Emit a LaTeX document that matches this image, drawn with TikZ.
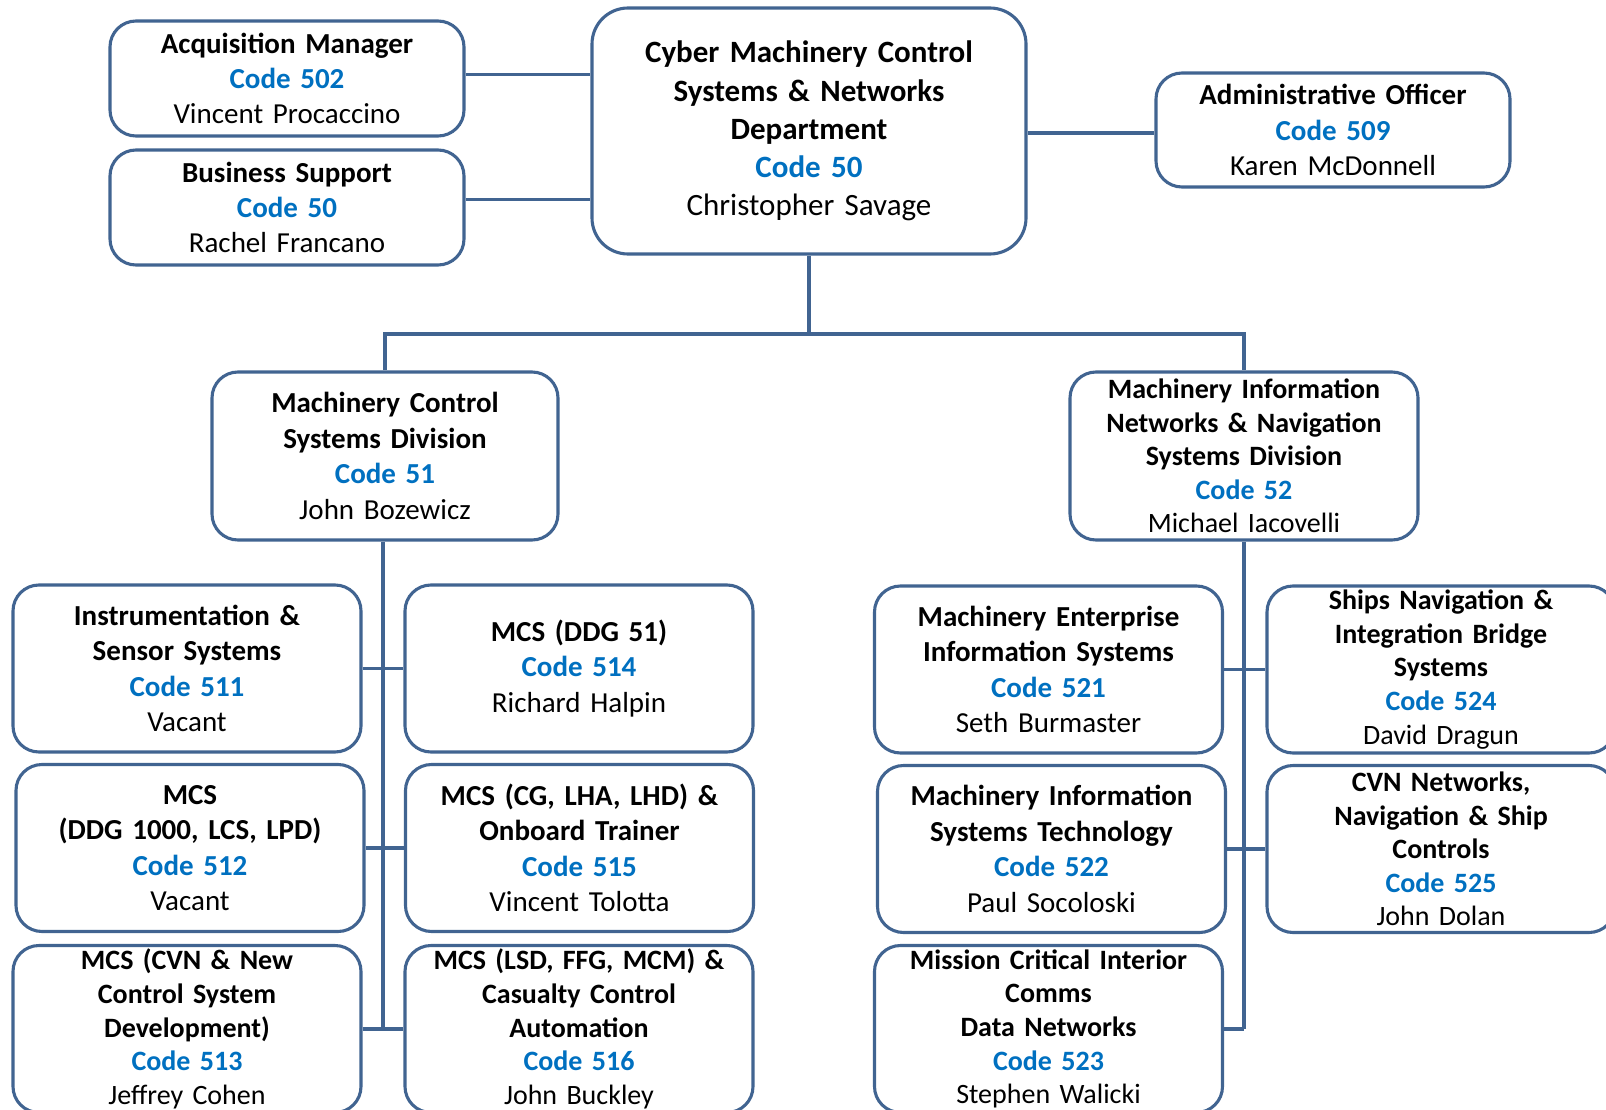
\documentclass[tikz,border=0pt]{standalone}
\usepackage{fontspec}
\setmainfont{Carlito}
\usepackage{xcolor}
\usepackage{tikz}
\usetikzlibrary{positioning}
\definecolor{boxline}{RGB}{65,100,145}
\definecolor{codeblue}{RGB}{0,112,192}
\newcommand{\code}[1]{\textcolor{codeblue}{\textbf{Code #1}}}
\tikzset{
  unit/.style={draw=boxline, line width=3.1pt, rounded corners=26pt,
    align=center, inner sep=0pt, text width=#1, minimum height=167pt,
    font={\fontsize{29}{35.4}\selectfont}},
  unit/.default=348pt,
  tight/.style={font={\fontsize{28}{33.6}\selectfont}},
  link/.style={draw=boxline, line width=3.1pt}
}
\begin{document}
\begin{tikzpicture}[x=1pt,y=-1pt]
\useasboundingbox (0,0) rectangle (1606,1110);
%%top level
\node[unit=434pt, minimum height=246pt, rounded corners=36pt, font={\fontsize{31}{38.2}\selectfont}] (dept) at (809,131)
  {\textbf{Cyber Machinery Control}\\\textbf{Systems \& Networks}\\\textbf{Department}\\\code{50}\\Christopher Savage};
\node[unit=354pt, minimum height=115pt] (acq) at (287,78.5)
  {\textbf{Acquisition Manager}\\\code{502}\\Vincent Procaccino};
\node[unit=354pt, minimum height=115pt] (bus) at (287,207.5)
  {\textbf{Business Support}\\\code{50}\\Rachel Francano};
\node[unit=354pt, minimum height=114pt] (adm) at (1333,130)
  {\textbf{Administrative Officer}\\\code{509}\\Karen McDonnell};
%%divisions
\node[unit=346pt, minimum height=168pt] (mcsd) at (385,456)
  {\textbf{Machinery Control}\\\textbf{Systems Division}\\\code{51}\\John Bozewicz};
\node[unit, tight, minimum height=168pt] (minn) at (1244,456)
  {\textbf{Machinery Information}\\\textbf{Networks \& Navigation}\\\textbf{Systems Division}\\\code{52}\\Michael Iacovelli};
%%branches under code 51
\node[unit] (c511) at (187,668.5)
  {\textbf{Instrumentation \&}\\\textbf{Sensor Systems}\\\code{511}\\Vacant};
\node[unit] (c514) at (579,668.5)
  {\textbf{MCS (DDG 51)}\\\code{514}\\Richard Halpin};
\node[unit] (c512) at (190,848)
  {\textbf{MCS}\\\textbf{(DDG 1000, LCS, LPD)}\\\code{512}\\Vacant};
\node[unit] (c515) at (579.5,848)
  {\textbf{MCS (CG, LHA, LHD) \&}\\\textbf{Onboard Trainer}\\\code{515}\\Vincent Tolotta};
\node[unit, tight] (c513) at (187,1029)
  {\textbf{MCS (CVN \& New}\\\textbf{Control System}\\\textbf{Development)}\\\code{513}\\Jeffrey Cohen};
\node[unit, tight] (c516) at (579,1029)
  {\textbf{MCS (LSD, FFG, MCM) \&}\\\textbf{Casualty Control}\\\textbf{Automation}\\\code{516}\\John Buckley};
%%branches under code 52
\node[unit] (c521) at (1048.5,669.5)
  {\textbf{Machinery Enterprise}\\\textbf{Information Systems}\\\code{521}\\Seth Burmaster};
\node[unit, tight] (c524) at (1441,669.5)
  {\textbf{Ships Navigation \&}\\\textbf{Integration Bridge}\\\textbf{Systems}\\\code{524}\\David Dragun};
\node[unit] (c522) at (1051.5,849)
  {\textbf{Machinery Information}\\\textbf{Systems Technology}\\\code{522}\\Paul Socoloski};
\node[unit, tight] (c525) at (1441,849)
  {\textbf{CVN Networks,}\\\textbf{Navigation \& Ship}\\\textbf{Controls}\\\code{525}\\John Dolan};
\node[unit, tight] (c523) at (1048.5,1029)
  {\textbf{Mission Critical Interior}\\\textbf{Comms}\\\textbf{Data Networks}\\\code{523}\\Stephen Walicki};
%%staff links
\draw[link] ([yshift=4pt]acq.east) -- ([yshift=4pt]acq.east -| dept.west);
\draw[link] ([yshift=8pt]bus.east) -- ([yshift=8pt]bus.east -| dept.west);
\draw[link] ([yshift=-3pt]adm.west) -- ([yshift=-3pt]adm.west -| dept.east);
%%division bus
\coordinate (hub) at (809,334);
\draw[link] (dept.south) -- (hub);
\draw[link] (mcsd.north) |- (hub) -| (minn.north);
%%left column
\draw[link] ([xshift=-2pt]mcsd.south) -- ([xshift=-2pt]mcsd.south |- c513.east);
\draw[link] (c511.east) -- (c514.west);
\draw[link] (c512.east) -- (c515.west);
\draw[link] (c513.east) -- (c516.west);
%%right column
\draw[link] (minn.south) -- (minn.south |- c523.east);
\draw[link] (c521.east) -- (c524.west);
\draw[link] (c522.east) -- (c525.west);
\draw[link] (c523.east) -- (c523.east -| minn.south);
\end{tikzpicture}
\end{document}
